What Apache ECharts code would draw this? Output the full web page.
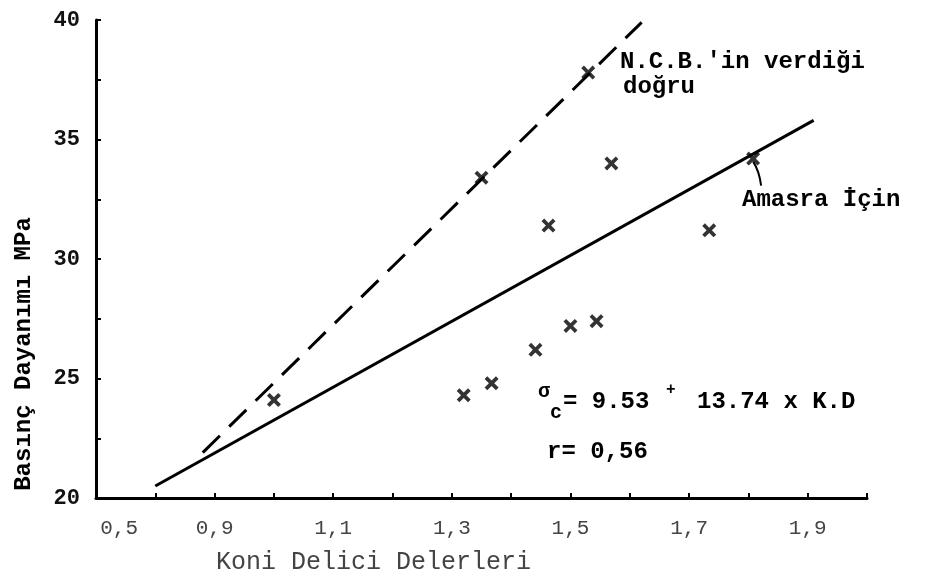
<!DOCTYPE html>
<html>
<head>
<meta charset="utf-8">
<script src="https://cdn.jsdelivr.net/npm/echarts@6/dist/echarts.min.js"></script>
<style>html,body{margin:0;padding:0;background:#fff}#c{width:925px;height:584px}</style>
</head>
<body>
<div id="c"></div>
<script>
// ---- data ----
const xTickLabels = ['0,5', '0,9', '1,1', '1,3', '1,5', '1,7', '1,9'];
const xTickLabelValues = [0.739, 0.9, 1.1, 1.3, 1.5, 1.7, 1.9];
const yTickLabels = ['20', '25', '30', '35', '40'];
const pointsX = [1.00, 1.35, 1.32, 1.367, 1.441, 1.50, 1.544, 1.53, 1.569, 1.463, 1.734, 1.808];
const pointsY = [24.1, 33.4, 24.3, 24.8, 26.2, 27.2, 27.4, 37.8, 34.0, 31.4, 31.2, 34.2];
const ncbLineX = [0.88, 1.62];
const ncbLineY = [21.9, 39.9];
const amasraLineX = [0.80, 1.91];
const amasraLineY = [20.5, 35.8];
const arrowTarget = [1.808, 34.2];

const MONO = '"Liberation Mono", "DejaVu Sans Mono", monospace';
const chart = echarts.init(document.getElementById('c'), null, {renderer: 'canvas'});
const xSym = 'path://M0,1.9 L1.9,0 L5,3.1 L8.1,0 L10,1.9 L6.9,5 L10,8.1 L8.1,10 L5,6.9 L1.9,10 L0,8.1 L3.1,5 Z';

const option = {
  animation: false,
  backgroundColor: '#fff',
  grid: {left: 96, right: 58, top: 20, bottom: 86},
  xAxis: {
    type: 'value', min: 0.7, max: 2.0, interval: 0.1,
    name: 'Koni Delici Delerleri', nameLocation: 'middle', nameGap: 52,
    nameTextStyle: {fontFamily: MONO, fontSize: 25, color: '#444', padding: [0, 216, 0, 0]},
    axisLine: {show: true, onZero: false, lineStyle: {color: '#000', width: 3}},
    axisTick: {show: true, inside: true, length: 5, lineStyle: {color: '#000', width: 2}},
    axisLabel: {
      customValues: xTickLabelValues,
      formatter: v => { const i = xTickLabelValues.findIndex(t => Math.abs(t - v) < 1e-6); return i >= 0 ? xTickLabels[i] : ''; },
      fontFamily: MONO, fontSize: 21, color: '#444', margin: 20
    },
    splitLine: {show: false}
  },
  yAxis: {
    type: 'value', min: 20, max: 40, interval: 2.5,
    name: 'Basınç Dayanımı MPa', nameLocation: 'middle', nameGap: 60, nameRotate: 90,
    nameTextStyle: {fontFamily: MONO, fontSize: 24, fontWeight: 'bold', color: '#000', padding: [0, 190, 0, 0]},
    axisLine: {show: true, onZero: false, lineStyle: {color: '#000', width: 3}},
    axisTick: {show: true, inside: true, length: 5, lineStyle: {color: '#000', width: 2}},
    axisLabel: {
      formatter: v => { const s = String(v); return yTickLabels.indexOf(s) >= 0 ? s : ''; },
      fontFamily: MONO, fontSize: 22, fontWeight: 'bold', color: '#111', margin: 16
    },
    splitLine: {show: false}
  },
  series: [
    {
      type: 'line', name: 'NCB', data: ncbLineX.map((x, i) => [x, ncbLineY[i]]),
      showSymbol: false, lineStyle: {color: '#000', width: 3, type: [24, 13]}, z: 2
    },
    {
      type: 'line', name: 'Amasra', data: amasraLineX.map((x, i) => [x, amasraLineY[i]]),
      showSymbol: false, lineStyle: {color: '#000', width: 3}, z: 2
    },
    {
      type: 'scatter', name: 'points', data: pointsX.map((x, i) => [x, pointsY[i]]),
      symbol: xSym, symbolSize: 14, itemStyle: {color: '#000'}, z: 3
    }
  ]
};
chart.setOption(option);

const t = (text, left, y, size, extra) => Object.assign({
  type: 'text', x: left, y: y,
  style: {text: text, fontFamily: MONO, fontSize: size, fontWeight: 'bold', fill: '#000', verticalAlign: 'middle', align: 'left'}
}, extra || {});

const tgt = chart.convertToPixel({gridIndex: 0}, arrowTarget);
chart.setOption({
  graphic: [
    t("N.C.B.'in verdiği", 620, 62, 24),
    t('doğru', 623, 87, 24),
    t('Amasra İçin', 742, 200, 24),
    t('σ', 538, 392, 20),
    t('c', 550, 413, 20),
    t('= 9.53', 563, 402, 24),
    t('+', 666, 390, 16),
    t('13.74 x K.D', 697, 402, 24),
    t('r= 0,56', 547, 452, 24),
    {type: 'bezierCurve', shape: {x1: tgt[0] + 8, y1: tgt[1] + 27, x2: tgt[0], y2: tgt[1] + 3, cpx1: tgt[0] + 6, cpy1: tgt[1] + 12}, style: {stroke: '#000', lineWidth: 2, fill: null}}
  ]
});
</script>
</body>
</html>
